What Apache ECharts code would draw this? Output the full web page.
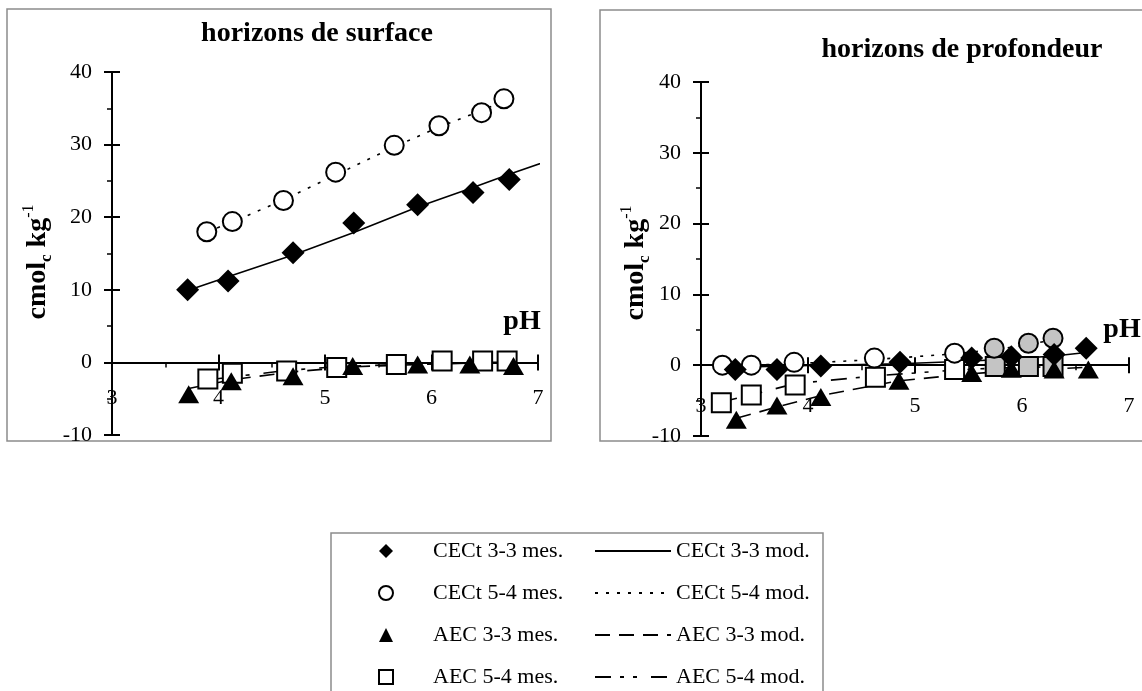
<!DOCTYPE html>
<html>
<head>
<meta charset="UTF-8">
<title>CECt / AEC - pH</title>
<script src="https://cdn.jsdelivr.net/npm/echarts@6/dist/echarts.min.js"></script>
<style>
  html,body{margin:0;padding:0;background:#fff;}
  #chart{width:1142px;height:691px;}
</style>
</head>
<body>
<div id="chart"></div>
<script>
// ---- horizons de surface : [pH, cmolc/kg]
var surfCec33Mes = [[3.71,10.0],[4.09,11.2],[4.70,15.1],[5.27,19.2],[5.87,21.7],[6.39,23.4],[6.73,25.2]];
var surfCec54Mes = [[3.89,18.0],[4.13,19.4],[4.61,22.3],[5.10,26.2],[5.65,29.9],[6.07,32.6],[6.47,34.4],[6.68,36.3]];
var surfAec33Mes = [[3.72,-4.4],[4.12,-2.6],[4.70,-1.9],[5.26,-0.5],[5.87,-0.3],[6.36,-0.3],[6.77,-0.5]];
var surfAec54Mes = [[3.90,-2.3],[4.13,-1.5],[4.64,-1.2],[5.11,-0.7],[5.67,-0.3],[6.10,0.2],[6.48,0.2],[6.71,0.2]];
var surfCec33Mod = [[3.71,9.9],[4.09,11.8],[4.70,14.8],[5.27,17.9],[5.87,21.4],[6.39,24.1],[6.73,25.9],[7.10,27.8]];
var surfCec54Mod = [[3.89,18.0],[4.13,19.3],[4.61,22.4],[5.10,25.8],[5.65,29.7],[6.07,32.4],[6.47,34.7],[6.68,36.0]];
var surfAec33Mod = [[3.72,-3.6],[4.12,-2.4],[4.70,-1.3],[5.26,-0.6],[5.87,-0.3],[6.36,-0.1],[6.77,0.0]];
var surfAec54Mod = [[3.90,-2.4],[4.13,-2.0],[4.64,-1.1],[5.11,-0.6],[5.67,-0.3],[6.10,-0.1],[6.48,0.0],[6.71,0.0]];

// ---- horizons de profondeur
var profCec33Mes = [[3.32,-0.6],[3.71,-0.6],[4.12,-0.1],[4.86,0.4],[5.53,1.0],[5.90,1.2],[6.30,1.5],[6.60,2.4]];
var profCec54Mes = [[3.20,0.0],[3.47,0.0],[3.87,0.4],[4.62,1.0],[5.37,1.7],[5.74,2.4],[6.06,3.1],[6.29,3.8]];
var profAec33Mes = [[3.33,-7.7],[3.71,-5.7],[4.12,-4.5],[4.85,-2.2],[5.53,-1.1],[5.90,-0.5],[6.30,-0.6],[6.62,-0.6]];
var profAec54Mes = [[3.19,-5.3],[3.47,-4.2],[3.88,-2.8],[4.63,-1.7],[5.37,-0.6],[5.75,-0.2],[6.06,-0.2],[6.29,-0.2]];
var profCec33Mod = [[3.32,-0.3],[4.12,0.0],[4.86,0.2],[5.53,0.6],[5.90,0.9],[6.30,1.3],[6.60,1.8]];
var profCec54Mod = [[3.20,-0.1],[3.87,0.2],[4.62,0.8],[5.37,1.6],[5.74,2.2],[6.06,2.9],[6.29,3.6]];
var profAec33Mod = [[3.33,-7.5],[3.71,-5.9],[4.12,-4.3],[4.85,-2.2],[5.53,-1.2],[5.90,-0.8],[6.30,-0.5],[6.62,-0.3]];
var profAec54Mod = [[3.19,-5.2],[3.47,-4.2],[3.88,-2.6],[4.63,-1.5],[5.37,-0.7],[5.75,-0.4],[6.06,-0.3],[6.29,-0.2]];
var profShaded = [5,6,7];   // points remplis de gris (sol 5-4)

var names = ['CECt 3-3 mes.','CECt 5-4 mes.','AEC 3-3 mes.','AEC 5-4 mes.',
             'CECt 3-3 mod.','CECt 5-4 mod.','AEC 3-3 mod.','AEC 5-4 mod.'];
var phMin = 3, phMax = 7, yMin = -10, yMax = 40;

var FONT = '"Liberation Serif", "DejaVu Serif", serif';
var grids = [
    {left: 112, top: 72, width: 426, height: 363},
    {left: 701, top: 82, width: 428, height: 354}
];

function shade(data, idx){
    return data.map(function(p, i){
        if (idx.indexOf(i) >= 0) return {value: p, itemStyle: {color: '#c4c4c4'}};
        return p;
    });
}

function axisPair(dim, g){
    var base, off = 0;
    if (dim === 'x') {
        base = {min: phMin, max: phMax, interval: 1, position: 'bottom'};
        // l'axe des pH croise l'axe vertical en 0
        off = -(0 - yMin) / (yMax - yMin) * grids[g].height;
    } else {
        base = {min: yMin, max: yMax, interval: 10, position: 'left'};
    }
    var main = Object.assign({
        gridIndex: g, type: 'value', offset: off,
        axisLine: {show: true, onZero: false, lineStyle: {color: '#000', width: 2}},
        axisTick: {show: true, length: 8, lineStyle: {color: '#000', width: 2}},
        minorTick: {show: true, splitNumber: 2, length: 5, lineStyle: {color: '#000', width: 1.5}},
        splitLine: {show: false},
        axisLabel: {color: '#000', fontSize: 22, fontFamily: FONT, margin: dim === 'x' ? (g === 0 ? 25 : 30) : 20}
    }, base);
    var inner = Object.assign({
        gridIndex: g, type: 'value', offset: off,
        axisLine: {show: false, onZero: false},
        axisTick: {show: true, inside: true, length: 8, lineStyle: {color: '#000', width: 2}},
        splitLine: {show: false},
        axisLabel: {show: false}
    }, base);
    return [main, inner];
}

function panelSeries(g, d){
    var xi = g * 2, yi = g * 2;
    function mod(name, data, dash, clip){
        return {name: name, type: 'line', xAxisIndex: xi, yAxisIndex: yi, data: data,
            symbol: 'none', clip: clip !== false, z: 2,
            lineStyle: {color: '#000', width: 1.6, type: dash}, itemStyle: {color: '#000'}};
    }
    function mes(name, data, symbol, size, filled){
        return {name: name, type: 'scatter', xAxisIndex: xi, yAxisIndex: yi, data: data,
            symbol: symbol, symbolSize: size, z: 3,
            itemStyle: filled ? {color: '#000', opacity: 1}
                              : {color: '#fff', borderColor: '#000', borderWidth: 2, opacity: 1}};
    }
    return [
        mod(names[4], d.cec33mod, 'solid', false),
        mod(names[5], d.cec54mod, [3, 8]),
        mod(names[6], d.aec33mod, [15, 9]),
        mod(names[7], d.aec54mod, [16, 9, 4, 9, 4, 14]),
        mes(names[3], d.aec54mes, 'rect', 19, false),
        mes(names[1], d.cec54mes, 'circle', 19, false),
        mes(names[2], d.aec33mes, 'triangle', [21, 18], true),
        mes(names[0], d.cec33mes, 'diamond', 23, true)
    ];
}

var series = panelSeries(0, {
    cec33mes: surfCec33Mes, cec54mes: surfCec54Mes, aec33mes: surfAec33Mes, aec54mes: surfAec54Mes,
    cec33mod: surfCec33Mod, cec54mod: surfCec54Mod, aec33mod: surfAec33Mod, aec54mod: surfAec54Mod
}).concat(panelSeries(1, {
    cec33mes: profCec33Mes, cec54mes: shade(profCec54Mes, profShaded), aec33mes: profAec33Mes,
    aec54mes: shade(profAec54Mes, profShaded),
    cec33mod: profCec33Mod, cec54mod: profCec54Mod, aec33mod: profAec33Mod, aec54mod: profAec54Mod
}));

function yName(x, y){
    return {type: 'text', x: x, y: y, rotation: Math.PI / 2, z: 10,
        style: {text: '{m|cmol}{s|c}{m| kg}{p|-1}', align: 'center', verticalAlign: 'middle', fill: '#000',
            rich: {
                m: {fontSize: 28, fontWeight: 'bold', fontFamily: FONT, lineHeight: 34, fill: '#000'},
                s: {fontSize: 17, fontWeight: 'bold', fontFamily: FONT, lineHeight: 17, verticalAlign: 'bottom', fill: '#000'},
                p: {fontSize: 16, fontFamily: FONT, lineHeight: 16, verticalAlign: 'top', fill: '#000'}
            }}};
}
function label(x, y, txt, size){
    return {type: 'text', x: x, y: y, z: 10,
        style: {text: txt, align: 'center', verticalAlign: 'middle', fill: '#000',
            font: 'bold ' + size + 'px ' + FONT}};
}

var legendText = {color: '#000', fontSize: 22, fontFamily: FONT, lineHeight: 22};

var chart = echarts.init(document.getElementById('chart'));
chart.setOption({
    animation: false,
    textStyle: {fontFamily: FONT},
    grid: grids,
    xAxis: axisPair('x', 0).concat(axisPair('x', 1)),
    yAxis: axisPair('y', 0).concat(axisPair('y', 1)),
    legend: [
        {orient: 'vertical', left: 378, top: 540, padding: 0, itemWidth: 14, itemHeight: 14, itemGap: 20,
         selectedMode: false, data: names.slice(0, 4),
         textStyle: Object.assign({padding: [0, 0, 0, 35]}, legendText)},
        {orient: 'vertical', left: 594, top: 540, padding: 0, itemWidth: 76, itemHeight: 14, itemGap: 20,
         selectedMode: false, data: names.slice(4),
         itemStyle: {color: 'rgba(0,0,0,0)', borderColor: 'rgba(0,0,0,0)', borderWidth: 0},
         textStyle: legendText}
    ],
    graphic: [
        {type: 'rect', z: -1, shape: {x: 7, y: 9, width: 544, height: 432},
         style: {fill: 'none', stroke: '#8c8c8c', lineWidth: 1.5}},
        {type: 'rect', z: -1, shape: {x: 600, y: 10, width: 560, height: 431},
         style: {fill: 'none', stroke: '#8c8c8c', lineWidth: 1.5}},
        {type: 'rect', z: -1, shape: {x: 331, y: 533, width: 492, height: 170},
         style: {fill: 'none', stroke: '#8c8c8c', lineWidth: 1.5}},
        label(317, 34, 'horizons de surface', 28),
        label(962, 50, 'horizons de profondeur', 28),
        label(522, 322, 'pH', 28),
        label(1122, 330, 'pH', 28),
        yName(38, 262),
        yName(636, 263)
    ],
    series: series
});
</script>
</body>
</html>
